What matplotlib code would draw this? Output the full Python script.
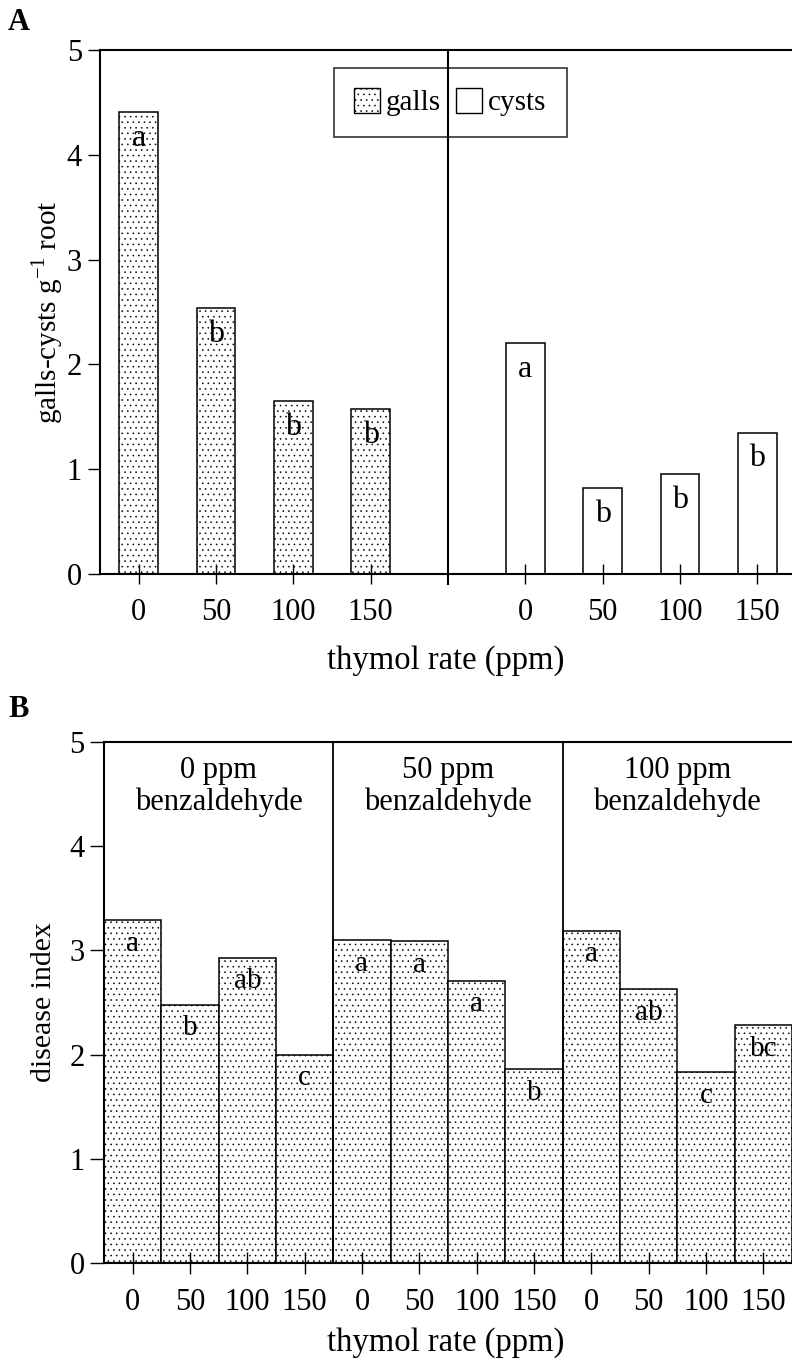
import matplotlib
matplotlib.use("Agg")
import matplotlib.pyplot as plt
from matplotlib.patches import Patch

# data
rates = ["0", "50", "100", "150"]
galls = [4.41, 2.54, 1.65, 1.57]
cysts = [2.20, 0.82, 0.95, 1.35]
galls_letters = ["a", "b", "b", "b"]
cysts_letters = ["a", "b", "b", "b"]

benz_groups = ["0 ppm\nbenzaldehyde", "50 ppm\nbenzaldehyde", "100 ppm\nbenzaldehyde"]
disease = [3.29, 2.48, 2.93, 2.00,
           3.10, 3.09, 2.71, 1.86,
           3.19, 2.63, 1.83, 2.28]
disease_letters = ["a", "b", "ab", "c",
                   "a", "a", "a", "b",
                   "a", "ab", "c", "bc"]

plt.rcParams["font.family"] = ["Liberation Serif", "DejaVu Serif"]
plt.rcParams["hatch.linewidth"] = 0.4
plt.rcParams["hatch.color"] = "#666666"
plt.rcParams["axes.linewidth"] = 1.5

W, H = 792, 1363
fig = plt.figure(figsize=(W / 100, H / 100), dpi=100)

# ---- panel A
axA = fig.add_axes([100 / W, 1 - 574 / H, 1 - 100 / W, 524 / H])
xg = [0, 1, 2, 3]
xc = [5, 6, 7, 8]
axA.bar(xg, galls, width=0.5, color="white", edgecolor="black", linewidth=1.1, hatch="...")
axA.bar(xc, cysts, width=0.5, color="white", edgecolor="black", linewidth=1.1)
for x, v, t in zip(xg + xc, galls + cysts, galls_letters + cysts_letters):
    axA.annotate(t, (x, v), xytext=(0, -19), textcoords="offset points",
                 ha="center", va="center", fontsize=23)
axA.plot([4, 4], [-0.1, 5], color="black", lw=1.5, clip_on=False)
axA.set_xlim(-0.5, 8.45)
axA.set_ylim(0, 5)
axA.set_xticks(xg + xc)
axA.set_xticklabels(rates * 2)
axA.set_yticks(range(6))
axA.tick_params(axis="x", direction="inout", length=14, width=1, labelsize=22, pad=10)
axA.tick_params(axis="y", direction="out", length=9, width=1, labelsize=22, pad=4)
axA.spines["right"].set_visible(False)
axA.set_ylabel("galls-cysts g$^{\\mathregular{-1}}$ root", fontsize=21)
axA.yaxis.set_label_coords(-0.05, 0.5)
axA.set_xlabel("thymol rate (ppm)", fontsize=23.5)
axA.xaxis.set_label_coords(0.5, -0.136)
handles = [Patch(facecolor="white", edgecolor="black", hatch="...", label="galls"),
           Patch(facecolor="white", edgecolor="black", label="cysts")]
leg = axA.legend(handles=handles, loc="center", bbox_to_anchor=(0.506, 0.90), ncol=2,
                 fontsize=21, frameon=True, fancybox=False, edgecolor="black",
                 handlelength=0.9, handleheight=0.9, handletextpad=0.2,
                 columnspacing=0.5, borderpad=0.7)
leg.get_frame().set_facecolor("none")
leg.get_frame().set_linewidth(1.2)

# ---- panel B
axB = fig.add_axes([104 / W, 1 - 1263 / H, 1 - 104 / W, 521 / H])
xb = list(range(len(disease)))
axB.bar(xb, disease, width=1.0, color="white", edgecolor="black", linewidth=1.1, hatch="...")
for x, v, t in zip(xb, disease, disease_letters):
    axB.annotate(t, (x, v), xytext=(0, -17), textcoords="offset points",
                 ha="center", va="center", fontsize=21)
for i, g in enumerate(benz_groups):
    if i > 0:
        axB.axvline(4 * i - 0.5, color="black", lw=1.3)
    axB.text(4 * i + 1.5, 4.87, g, ha="center", va="top", fontsize=22, linespacing=1.12)
axB.set_xlim(-0.5, 11.5)
axB.set_ylim(0, 5)
axB.set_xticks(xb)
axB.set_xticklabels(rates * 3)
axB.set_yticks(range(6))
axB.tick_params(axis="x", direction="inout", length=16, width=1, labelsize=22, pad=10)
axB.tick_params(axis="y", direction="out", length=10, width=1, labelsize=22, pad=4)
axB.spines["right"].set_visible(False)
axB.set_ylabel("disease index", fontsize=21.5)
axB.yaxis.set_label_coords(-0.068, 0.5)
axB.set_xlabel("thymol rate (ppm)", fontsize=23.5)
axB.xaxis.set_label_coords(0.497, -0.123)

fig.text(8 / W, 1 - 8 / H, "A", fontsize=22, fontweight="bold", ha="left", va="top")
fig.text(8 / W, 1 - 695 / H, "B", fontsize=22, fontweight="bold", ha="left", va="top")

fig.savefig("out.png", dpi=100)
